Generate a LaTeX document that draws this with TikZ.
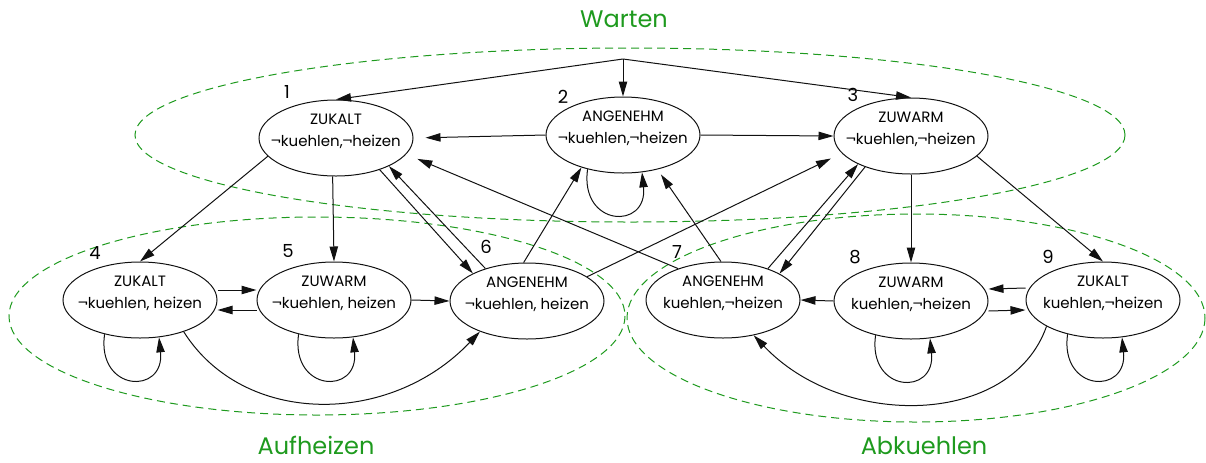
\documentclass[tikz,border=0pt]{standalone}
\usepackage{fontspec}
\setmainfont{Poppins}
\usetikzlibrary{arrows.meta,shapes.geometric}
\definecolor{grp}{HTML}{1E9A1E}
\definecolor{ink}{HTML}{111111}

\begin{document}
\begin{tikzpicture}[x=0.5pt,y=-0.5pt,
    st/.style={ellipse,draw=ink,line width=0.5pt,minimum width=77pt,minimum height=38pt,
      inner xsep=-6pt,inner ysep=1pt,align=center,font=\fontsize{7.5}{10.8}\selectfont,text depth=7.5pt},
    num/.style={font=\fontsize{9}{10}\selectfont,inner sep=0pt},
    edge/.style={draw=ink,line width=0.5pt,-{Triangle[length=7.5pt,width=4.2pt]}},
    zone/.style={draw=grp,line width=0.5pt,dash pattern=on 4pt off 2.5pt},
    zlbl/.style={text=grp,font=\fontsize{12}{14}\selectfont,inner sep=0pt,anchor=base}]
  \useasboundingbox (0,0) rectangle (1206,462);
  % groups
  \draw[zone] (630,135) ellipse [x radius=495,y radius=87];
  \draw[zone] (317,316) ellipse [x radius=308,y radius=99];
  \draw[zone] (916,318) ellipse [x radius=289,y radius=104];
  \node[zlbl] (wart) at (624,27) {Warten};
  \node[zlbl] (aufh) at (316,454) {Aufheizen};
  \node[zlbl] (abk) at (924,454) {Abkuehlen};
  % states
  \node[st] (s1) at (336,138) {ZUKALT\\¬kuehlen,¬heizen};
  \node[st] (s2) at (623,135) {ANGENEHM\\¬kuehlen,¬heizen};
  \node[st] (s3) at (911,136) {ZUWARM\\¬kuehlen,¬heizen};
  \node[st] (s4) at (140,300) {ZUKALT\\¬kuehlen, heizen};
  \node[st] (s5) at (334,300) {ZUWARM\\¬kuehlen, heizen};
  \node[st] (s6) at (527,301) {ANGENEHM\\¬kuehlen, heizen};
  \node[st] (s7) at (723,300) {ANGENEHM\\kuehlen,¬heizen};
  \node[st] (s8) at (911,301) {ZUWARM\\kuehlen,¬heizen};
  \node[st] (s9) at (1103,300) {ZUKALT\\kuehlen,¬heizen};
  \node[num] (n1) at (287,92) {1};
  \node[num] (n2) at (563,97) {2};
  \node[num] (n3) at (853,95) {3};
  \node[num] (n4) at (95,253) {4};
  \node[num] (n5) at (288,251) {5};
  \node[num] (n6) at (486,247) {6};
  \node[num] (n7) at (677,252) {7};
  \node[num] (n8) at (855,257) {8};
  \node[num] (n9) at (1048,257) {9};
  % start
  \coordinate (top) at (623,59);
  \draw[edge] (top) -- (s1.north);
  \draw[edge] (top) -- (s2.north);
  \draw[edge] (top) -- (s3.north);
  % warten
  \draw[edge,shorten >=6pt] (s2.west) -- (s1.east);
  \draw[edge] (s2.east) -- (s3.west);
  \draw[edge] (s1.195) -- (s4.north);
  \draw[edge] (s1.265) -- (s5.north);
  \draw[edge] (s1.-36) -- (s6.153);
  \draw[edge] (s6.142) -- (s1.-28);
  \draw[edge,shorten >=6pt] (s7.145) -- (s1.-13);
  \draw[edge] (s6.95) -- (s2.218);
  \draw[edge,shorten >=3pt] (s7.93) -- (s2.-45);
  \draw[edge,shorten >=6pt] (s6.22) -- (s3.194);
  \draw[edge] (s7.35) -- (s3.208);
  \draw[edge] (s3.214) -- (s7.25);
  \draw[edge] (s3.south) -- (s8.north);
  \draw[edge] (s3.-17) -- (s9.north);
  % aufheizen
  \draw[edge] ([yshift=5pt]s4.east) -- ([yshift=5pt]s5.west);
  \draw[edge] ([yshift=-5pt]s5.west) -- ([yshift=-5pt]s4.east);
  \draw[edge] (s5.east) -- (s6.west);
  \draw[edge] (s4.-36) .. controls +(60,95) and +(-90,95) .. (s6.213);
  % abkuehlen
  \draw[edge] (s8.west) -- (s7.east);
  \draw[edge] ([yshift=6pt]s9.west) -- ([yshift=6pt]s8.east);
  \draw[edge] ([yshift=-5pt]s8.east) -- ([yshift=-5pt]s9.west);
  \draw[edge] (s9.205) .. controls +(-35,100) and +(90,95) .. (s7.-49);
  % self loops
  \foreach \s in {s2,s4,s5,s8,s9}
    \draw[edge] (\s.224) .. controls +(-8,58) and +(6,58) .. (\s.297);
\end{tikzpicture}
\end{document}
